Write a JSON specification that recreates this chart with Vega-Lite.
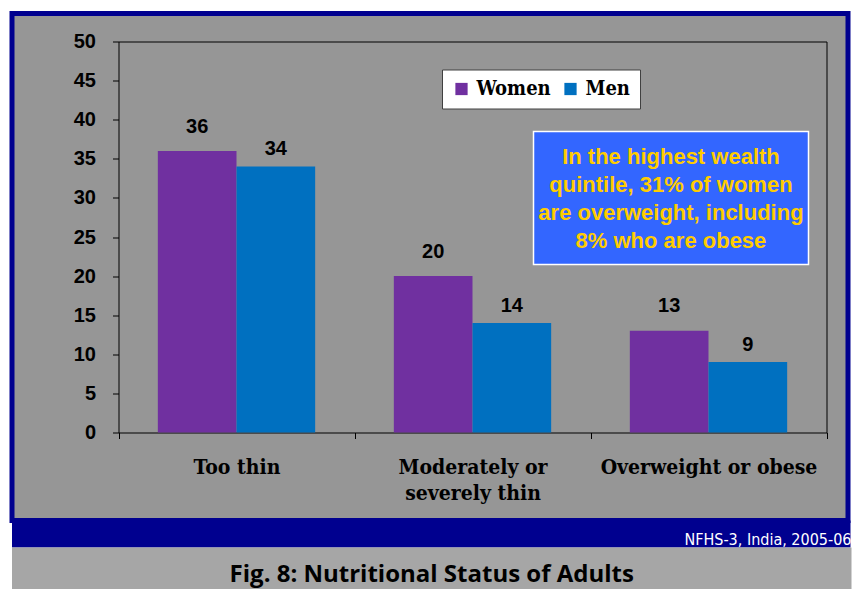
{
  "$schema": "https://vega.github.io/schema/vega-lite/v6.json",
  "background": "white",
  "autosize": {"type": "pad"},
  "padding": {"left": 9, "top": 10.5, "right": 0, "bottom": 0},
  "spacing": 0,
  "bounds": "flush",
  "datasets": {
    "nutrition": [
      {"status": "Too thin", "sex": "Women", "percent": 36},
      {"status": "Too thin", "sex": "Men", "percent": 34},
      {"status": "Moderately or severely thin", "sex": "Women", "percent": 20},
      {"status": "Moderately or severely thin", "sex": "Men", "percent": 14},
      {"status": "Overweight or obese", "sex": "Women", "percent": 13},
      {"status": "Overweight or obese", "sex": "Men", "percent": 9}
    ],
    "annotation": [
      {"note": ["In the highest wealth", "quintile, 31% of women", "are overweight, including", "8% who are obese"]}
    ]
  },
  "vconcat": [
    {
      "width": 836,
      "height": 507,
      "view": {"fill": "#969696", "stroke": "#00008f", "strokeWidth": 5},
      "resolve": {"scale": {"x": "independent"}, "axis": {"x": "independent", "y": "independent"}},
      "layer": [
        {
          "data": {"name": "annotation"},
          "mark": {"type": "rect", "fill": "#3366ff", "stroke": "white", "strokeWidth": 1.5},
          "encoding": {
            "x": {"datum": 1.7585, "type": "quantitative",
              "scale": {"domain": [0, 3], "range": [106.5, 814.5], "nice": false, "zero": false},
              "axis": {"orient": "top", "offset": -28, "ticks": false, "labels": false, "grid": false, "title": null, "domainColor": "black", "domainWidth": 1}},
            "x2": {"datum": 2.9237},
            "y": {"datum": 21.48, "type": "quantitative",
              "scale": {"domain": [0, 50], "range": [419, 28], "nice": false, "zero": true},
              "axis": {"orient": "right", "offset": -21.5, "ticks": false, "labels": false, "grid": false, "title": null, "domainColor": "black", "domainWidth": 1}},
            "y2": {"datum": 38.49}
          }
        },
        {
          "data": {"name": "annotation"},
          "mark": {"type": "text", "align": "center", "baseline": "middle", "font": "Liberation Sans", "fontWeight": "bold", "fontSize": 22, "lineHeight": 27.8, "color": "#ffcc00"},
          "encoding": {
            "x": {"datum": 2.341, "type": "quantitative",
              "scale": {"domain": [0, 3], "range": [106.5, 814.5], "nice": false, "zero": false}, "axis": null},
            "y": {"datum": 35.2, "type": "quantitative",
              "scale": {"domain": [0, 50], "range": [419, 28], "nice": false, "zero": true}, "axis": null},
            "text": {"field": "note"}
          }
        },
        {
          "data": {"name": "nutrition"},
          "mark": {"type": "bar"},
          "encoding": {
            "x": {"field": "status", "type": "nominal",
              "sort": ["Too thin", "Moderately or severely thin", "Overweight or obese"],
              "scale": {"range": [106.5, 814.5], "paddingInner": 0, "paddingOuter": 0},
              "axis": {"orient": "bottom", "offset": -88, "title": null, "labelAngle": 0,
                "tickBand": "extent", "tickSize": 6, "tickColor": "black", "domainColor": "black",
                "labelFont": "DejaVu Serif Condensed", "labelFontWeight": "bold", "labelFontSize": 21,
                "labelColor": "black", "labelPadding": 18, "labelLineHeight": 26, "labelLimit": 300,
                "labelExpr": "datum.value == 'Moderately or severely thin' ? ['Moderately or', 'severely thin'] : datum.label"}},
            "xOffset": {"field": "sex", "type": "nominal",
              "scale": {"domain": ["Women", "Men"], "paddingInner": 0, "paddingOuter": 0.5}},
            "y": {"field": "percent", "type": "quantitative",
              "scale": {"domain": [0, 50], "range": [419, 28], "nice": false, "zero": true},
              "axis": {"orient": "left", "offset": -106.5, "title": null, "grid": false,
                "values": [0, 5, 10, 15, 20, 25, 30, 35, 40, 45, 50],
                "tickSize": 6, "tickColor": "black", "domainColor": "black",
                "labelFont": "Liberation Sans", "labelFontWeight": "bold", "labelFontSize": 20,
                "labelColor": "black", "labelPadding": 17}},
            "color": {"field": "sex", "type": "nominal",
              "scale": {"domain": ["Women", "Men"], "range": ["#7030a0", "#0070c0"]},
              "legend": {"orient": "none", "legendX": 430, "legendY": 56, "direction": "horizontal",
                "title": null, "fillColor": "white", "strokeColor": "#404040", "padding": 9.5,
                "symbolType": "square", "symbolSize": 150, "symbolStrokeWidth": 0, "symbolOpacity": 1,
                "labelFont": "DejaVu Serif Condensed", "labelFontWeight": "bold", "labelFontSize": 20,
                "labelColor": "black", "columnPadding": 9, "labelOffset": 5}}
          }
        },
        {
          "data": {"name": "nutrition"},
          "transform": [{"filter": "datum.sex == 'Women'"}],
          "mark": {"type": "text", "align": "center", "baseline": "alphabetic", "dy": -18.4,
            "font": "Liberation Sans", "fontWeight": "bold", "fontSize": 20, "color": "black"},
          "encoding": {
            "x": {"field": "status", "type": "nominal",
              "sort": ["Too thin", "Moderately or severely thin", "Overweight or obese"],
              "scale": {"range": [106.5, 814.5], "paddingInner": 0, "paddingOuter": 0}, "axis": null},
            "xOffset": {"field": "sex", "type": "nominal",
              "scale": {"domain": ["Women", "Men"], "paddingInner": 0, "paddingOuter": 0.5}},
            "y": {"field": "percent", "type": "quantitative",
              "scale": {"domain": [0, 50], "range": [419, 28], "nice": false, "zero": true}, "axis": null},
            "text": {"field": "percent", "type": "quantitative"}
          }
        },
        {
          "data": {"name": "nutrition"},
          "transform": [{"filter": "datum.sex == 'Men'"}],
          "mark": {"type": "text", "align": "center", "baseline": "alphabetic", "dy": -11.2,
            "font": "Liberation Sans", "fontWeight": "bold", "fontSize": 20, "color": "black"},
          "encoding": {
            "x": {"field": "status", "type": "nominal",
              "sort": ["Too thin", "Moderately or severely thin", "Overweight or obese"],
              "scale": {"range": [106.5, 814.5], "paddingInner": 0, "paddingOuter": 0}, "axis": null},
            "xOffset": {"field": "sex", "type": "nominal",
              "scale": {"domain": ["Women", "Men"], "paddingInner": 0, "paddingOuter": 0.5}},
            "y": {"field": "percent", "type": "quantitative",
              "scale": {"domain": [0, 50], "range": [419, 28], "nice": false, "zero": true}, "axis": null},
            "text": {"field": "percent", "type": "quantitative"}
          }
        }
      ]
    },
    {
      "width": 838.5,
      "height": 27,
      "view": {"fill": "#00008f", "stroke": null},
      "data": {"values": [{"source": "NFHS-3, India, 2005-06"}]},
      "mark": {"type": "text", "align": "right", "baseline": "alphabetic", "dy": 11, "dx": 1,
        "color": "white", "font": "Liberation Sans Narrow, DejaVu Sans Condensed, sans-serif", "fontSize": 16},
      "encoding": {"text": {"field": "source"}, "x": {"value": "width"}}
    },
    {
      "width": 839.5,
      "height": 60,
      "view": {"fill": "#a6a6a6", "stroke": null},
      "data": {"values": [{"caption": "Fig. 8: Nutritional Status of Adults"}]},
      "mark": {"type": "text", "align": "center", "baseline": "alphabetic", "dy": 4.5, "font": "Open Sans",
        "fontWeight": "bold", "fontSize": 24, "color": "black"},
      "encoding": {"text": {"field": "caption"}}
    }
  ]
}
